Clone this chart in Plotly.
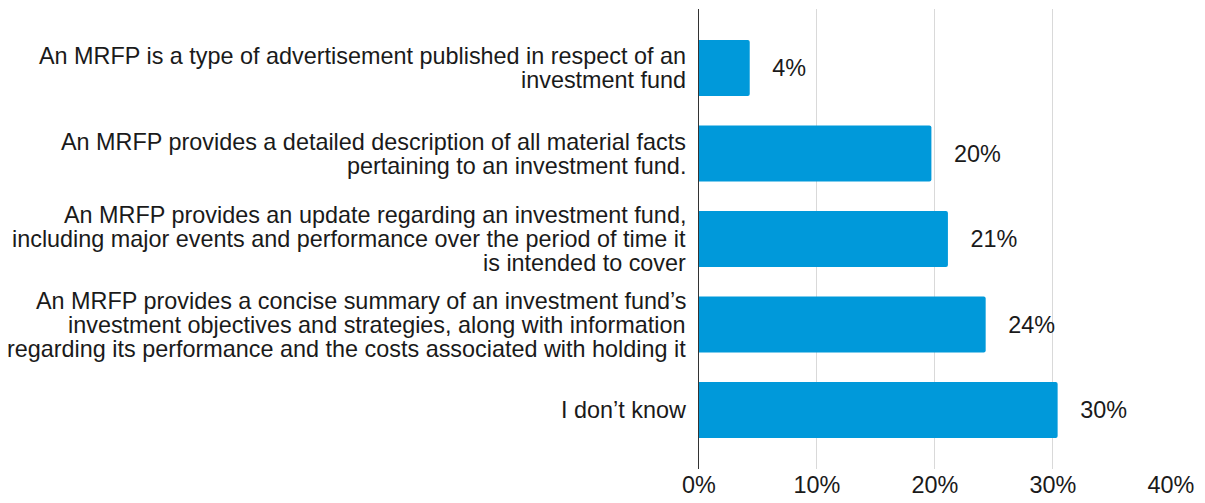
import plotly.graph_objects as go

# answer options, top to bottom as they appear in the chart
labels = [
    "An MRFP is a type of advertisement published in respect of an<br>investment fund",
    "An MRFP provides a detailed description of all material facts<br>pertaining to an investment fund.",
    "An MRFP provides an update regarding an investment fund,<br>including major events and performance over the period of time it<br>is intended to cover",
    "An MRFP provides a concise summary of an investment fund\u2019s<br>investment objectives and strategies, along with information<br>regarding its performance and the costs associated with holding it",
    "I don\u2019t know",
]
shares = [0.043, 0.197, 0.211, 0.243, 0.304]
tick_vals = [0, 0.1, 0.2, 0.3, 0.4]
tick_text = ["0%", "10%", "20%", "30%", "40%"]

FONT = "Liberation Sans, Arial, sans-serif"
BLUE = "#0099DA"
TEXT = "#1a1a1a"
FS = 23.4
LINE_H = 24

fig = go.Figure()
fig.add_trace(go.Bar(
    x=shares,
    y=list(range(len(labels))),
    orientation="h",
    marker=dict(color=BLUE, cornerradius=2, line=dict(width=0)),
    texttemplate="\u00a0\u00a0\u00a0%{x:.0%}",
    textposition="outside",
    textfont=dict(family=FONT, size=FS, color=TEXT),
    cliponaxis=False,
    hoverinfo="skip",
))

# category labels: one annotation per line so the line spacing stays tight
for i, lab in enumerate(labels):
    lines = lab.split("<br>")
    n = len(lines)
    for j, ln in enumerate(lines):
        fig.add_annotation(
            x=0, xref="paper", xanchor="right", xshift=-11,
            y=i, yref="y", yanchor="middle",
            yshift=((n - 1) / 2 - j) * LINE_H,
            text=ln, showarrow=False,
            font=dict(family=FONT, size=FS, color=TEXT),
        )

# page body adds an 8px offset, so the figure is a bit smaller than the window
fig.update_layout(
    width=1197, height=495,
    margin=dict(l=691, r=34, t=1, b=34, autoexpand=False),
    plot_bgcolor="white", paper_bgcolor="white",
    bargap=0.345,
    showlegend=False,
    font=dict(family=FONT, size=FS, color=TEXT),
)
fig.update_xaxes(
    range=[0, 0.4001], automargin=False,
    tickvals=tick_vals, ticktext=tick_text,
    showgrid=True, gridcolor="#d9d9d9", gridwidth=1,
    zeroline=False, showline=False,
    ticks="",
    tickfont=dict(family=FONT, size=FS, color=TEXT),
)
fig.update_yaxes(
    range=[4.69, -0.69], automargin=False,
    showticklabels=False, showgrid=False, zeroline=False,
    showline=True, linecolor="#333333", linewidth=1,
)

fig.write_html("out.html")
